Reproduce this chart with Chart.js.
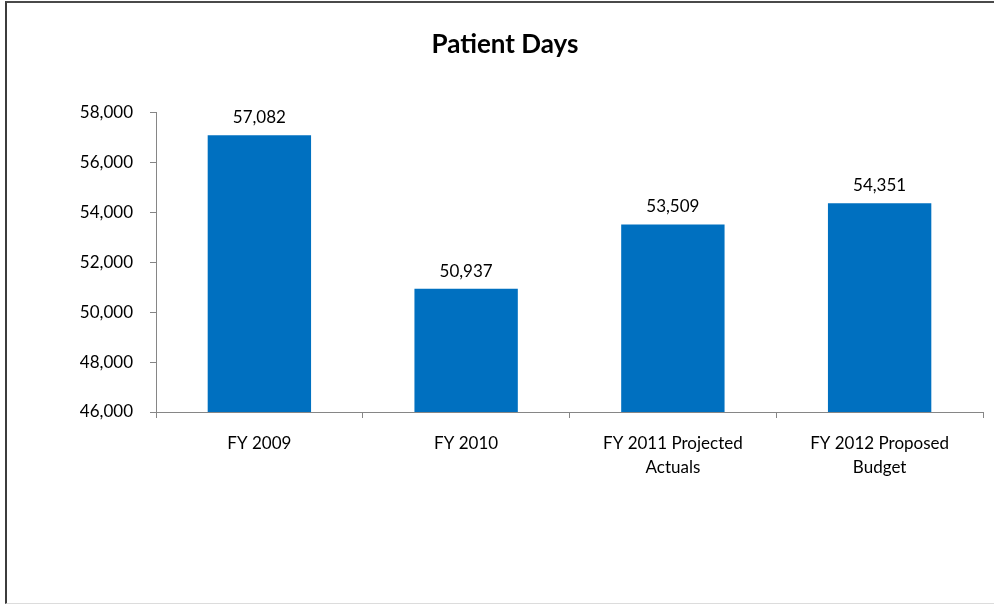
<!DOCTYPE html>
<html>
<head>
<meta charset="utf-8">
<script src="https://cdn.jsdelivr.net/npm/chart.js@4/dist/chart.umd.min.js"></script>
<style>
  html, body { margin: 0; padding: 0; background: #fff; }
  #frame { position: absolute; left: 5px; top: 1px; width: 1100px; height: 600px;
           border-left: 2px solid #3c3c3c; border-top: 2px solid #4a4a4a; border-bottom: 1px solid #dcdcdc; }
  #wrap { position: absolute; left: 0; top: 0; width: 994px; height: 604px; }
</style>
</head>
<body>
<div id="frame"></div>
<div id="wrap"><canvas id="c" width="994" height="604"></canvas></div>
<script>
const categories = [["FY 2009"], ["FY 2010"], ["FY 2011 Projected", "Actuals"], ["FY 2012 Proposed", "Budget"]];
const patientDays = [57082, 50937, 53509, 54351];
const yMin = 46000, yMax = 58000, yStep = 2000;
const chartTitle = "Patient Days";

const fontFamily = "Lato, 'Open Sans', sans-serif";
const fmt = v => Number(v).toLocaleString('en-US');

const valueLabels = {
  id: 'valueLabels',
  afterDatasetsDraw(chart) {
    const ctx = chart.ctx;
    ctx.save();
    ctx.font = "17px " + fontFamily;
    ctx.fillStyle = "#000";
    ctx.textAlign = "center";
    ctx.textBaseline = "bottom";
    chart.data.datasets.forEach((ds, di) => {
      chart.getDatasetMeta(di).data.forEach((bar, i) => {
        ctx.fillText(fmt(ds.data[i]), bar.x, bar.y - 9);
      });
    });
    ctx.restore();
  }
};

new Chart(document.getElementById('c'), {
  type: 'bar',
  data: {
    labels: categories,
    datasets: [{
      data: patientDays,
      backgroundColor: '#0070C0',
      borderWidth: 0,
      barPercentage: 0.5,
      categoryPercentage: 1.0
    }]
  },
  options: {
    responsive: false,
    animation: false,
    layout: { padding: { left: 27, right: 11, top: 0, bottom: 0 } },
    plugins: {
      legend: { display: false },
      tooltip: { enabled: false },
      title: {
        display: true,
        text: chartTitle,
        color: '#000',
        font: { family: fontFamily, size: 26, weight: 'bold' },
        padding: { top: 29, bottom: 52 }
      }
    },
    scales: {
      x: {
        offset: true,
        grid: { offset: true, drawOnChartArea: false, drawTicks: true, tickLength: 6, color: '#868686' },
        border: { color: '#868686', width: 1 },
        ticks: { color: '#000', font: { family: fontFamily, size: 17, lineHeight: 1.45 }, padding: 13, maxRotation: 0, autoSkip: false },
        afterFit(scale) { scale.height = 192; }
      },
      y: {
        min: yMin, max: yMax,
        grid: { drawOnChartArea: false, drawTicks: true, tickLength: 6, color: '#868686' },
        border: { color: '#868686', width: 1 },
        ticks: { stepSize: yStep, color: '#000', font: { family: fontFamily, size: 17 }, padding: 17,
                 callback: v => fmt(v) },
        afterFit(scale) { scale.width = 129; }
      }
    }
  },
  plugins: [valueLabels]
});
</script>
</body>
</html>
